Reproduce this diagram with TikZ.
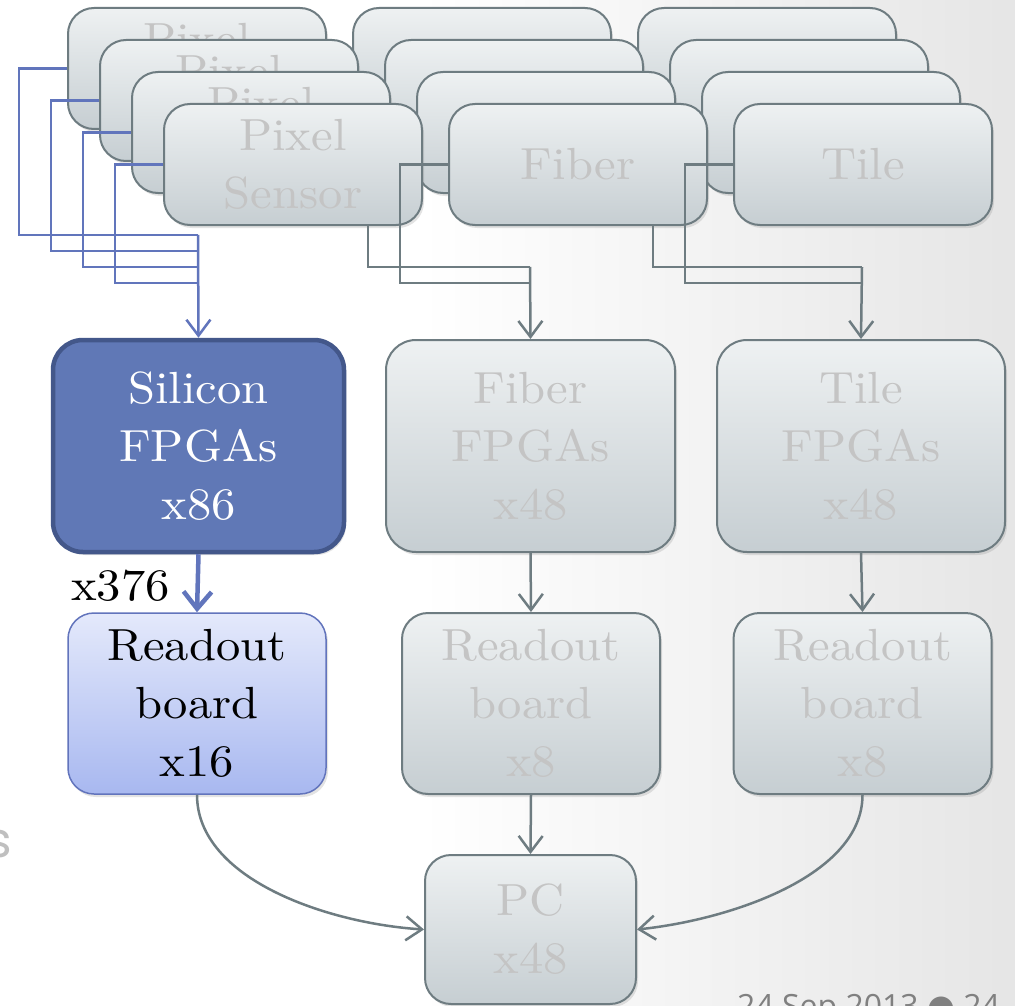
\documentclass[tikz,border=0pt]{standalone}
\usepackage{fontspec}
\usetikzlibrary{arrows.meta,shadows}

\newfontfamily\boxserif{lmroman10-regular}[Extension=.otf, FakeStretch=1.08]
\newfontfamily\notefont{Poppins}
\newfontfamily\datefont{Open Sans}
\newfontfamily\dotfont{DejaVu Sans}
\newcommand\diagfont{\boxserif\fontsize{45}{58}\selectfont}

\definecolor{boxtop}{HTML}{EEF1F2}
\definecolor{boxbot}{HTML}{C6CED2}
\definecolor{boxline}{HTML}{6E7C81}
\definecolor{boxtext}{HTML}{C4C4C4}
\definecolor{siblue}{HTML}{6078B6}
\definecolor{siline}{HTML}{43578A}
\definecolor{rotop}{HTML}{E4E9FB}
\definecolor{robot}{HTML}{A8B8F0}
\definecolor{roline}{HTML}{6274BC}
\definecolor{linkblue}{HTML}{6175BC}
\definecolor{linkgray}{HTML}{6E7C81}

\pgfdeclarelayer{bg}
\pgfdeclarelayer{back}
\pgfsetlayers{bg,back,main}

\tikzset{
  softshadow/.style={drop shadow={opacity=0.22, shadow xshift=2pt, shadow yshift=-3pt}},
  panel/.style={rounded corners=26pt, align=center, font=\diagfont,
    inner sep=0pt, softshadow},
  graybox/.style={panel, draw=boxline, line width=2pt,
    top color=boxtop, bottom color=boxbot, text=boxtext},
  sensorbox/.style={graybox, minimum width=258pt, minimum height=121pt},
  fpgabox/.style={graybox, rounded corners=30pt, minimum width=289pt, minimum height=212pt},
  readbox/.style={graybox, minimum width=258pt, minimum height=181pt},
  blink/.style={draw=linkblue, line width=2.5pt},
  glink/.style={draw=linkgray, line width=2.5pt},
  barb/.style={-{Straight Barb[length=16pt,width=24pt]}},
}

\begin{document}
\begin{tikzpicture}[x=1pt,y=-1pt]
\useasboundingbox (0,0) rectangle (1015,1006);
\clip (0,0) rectangle (1015,1006);

% slide background: white, greying softly towards the right edge
\begin{pgfonlayer}{bg}
  \fill[white] (0,0) rectangle (1015,1006);
  \shade[left color=white, right color=black!10] (420,0) rectangle (1015,1006);
\end{pgfonlayer}

% stacked detector planes, back row first
\node[sensorbox] (p1) at (197,68.5) {Pixel\\Sensor};
\node[sensorbox] (f1) at (482,68.5) {};
\node[sensorbox] (t1) at (767,68.5) {};
\node[sensorbox] (p2) at (229,100.5) {Pixel\\Sensor};
\node[sensorbox] (f2) at (514,100.5) {};
\node[sensorbox] (t2) at (799,100.5) {};
\node[sensorbox] (p3) at (261,132.5) {Pixel\\Sensor};
\node[sensorbox] (f3) at (546,132.5) {};
\node[sensorbox] (t3) at (831,132.5) {};
\node[sensorbox] (p4) at (293,164.5) {Pixel\\Sensor};
\node[sensorbox] (f4) at (578,164.5) {Fiber};
\node[sensorbox] (t4) at (863,164.5) {Tile};

% FPGA level
\node[panel, rounded corners=30pt, draw=siline, line width=4.5pt, fill=siblue,
      text=white, minimum width=291pt, minimum height=212pt] (sil) at (198.5,446) {Silicon\\FPGAs\\x86};
\node[fpgabox] (ffp) at (530.5,446) {Fiber\\FPGAs\\x48};
\node[fpgabox, minimum width=288pt] (tfp) at (861,446) {Tile\\FPGAs\\x48};

% readout boards
\node[panel, draw=roline, line width=1.5pt, top color=rotop, bottom color=robot,
      text=black, minimum width=258pt, minimum height=181pt] (rs) at (197,703.5) {Readout\\board\\x16};
\node[readbox] (rf) at (531,703.5) {Readout\\board\\x8};
\node[readbox] (rt) at (862.5,703.5) {Readout\\board\\x8};

% PC
\node[graybox, minimum width=211pt, minimum height=149pt] (pc) at (530.5,929.5) {PC\\x48};

% junction points of the merged cables
\coordinate (jp1) at (198,235);
\coordinate (jp2) at (198,251);
\coordinate (jp3) at (198,267);
\coordinate (jp4) at (198,283);
\coordinate (jf3) at (530,267);
\coordinate (jf4) at (530,283);
\coordinate (jt3) at (862,267);
\coordinate (jt4) at (862,283);

% pixel planes to silicon FPGAs
\draw[blink] (p1.west) -- ++(-48,0) |- (jp1);
\draw[blink] (p2.west) -- ++(-48,0) |- (jp2);
\draw[blink] (p3.west) -- ++(-48,0) |- (jp3);
\draw[blink] (p4.west) -- ++(-48,0) |- (jp4);
\draw[blink, barb] (jp1) -- (sil.north);

% fiber and tile planes (third plane runs behind the front row)
\begin{pgfonlayer}{back}
  \draw[glink] (f3.west) -- ++(-48,0) |- (jf3);
  \draw[glink] (t3.west) -- ++(-48,0) |- (jt3);
\end{pgfonlayer}
\draw[glink] (f4.west) -- ++(-48,0) |- (jf4);
\draw[glink] (t4.west) -- ++(-48,0) |- (jt4);
\draw[glink, barb] (jf3) -- (ffp.north);
\draw[glink, barb] (jt3) -- (tfp.north);

% FPGAs to readout boards
\draw[draw=linkblue, line width=4.5pt, -{Straight Barb[length=17pt,width=28pt]}] (sil.south) -- (rs.north);
\node[anchor=base east, font=\diagfont, inner sep=0pt] (links) at (170,600) {x376};
\draw[glink, barb] (ffp.south) -- (rf.north);
\draw[glink, barb] (tfp.south) -- (rt.north);

% readout boards to PC
\draw[glink, barb] (rf.south) -- (pc.north);
\draw[glink, barb] (rs.south) .. controls +(0,85) and +(-95,-6) .. (pc.west);
\draw[glink, barb] (rt.south) .. controls +(0,80) and +(95,-10) .. (pc.east);

% slide remnants at the edges
\node[anchor=base east, font=\notefont\fontsize{49}{58}\selectfont, text=black!25, inner sep=0pt] (tail) at (12,857) {s};
\node[anchor=base west, font=\datefont\fontsize{32}{38}\selectfont, text=black!50, inner sep=0pt] (date) at (737,1017) {24 Sep 2013 {\dotfont ●} 24};
\end{tikzpicture}
\end{document}
